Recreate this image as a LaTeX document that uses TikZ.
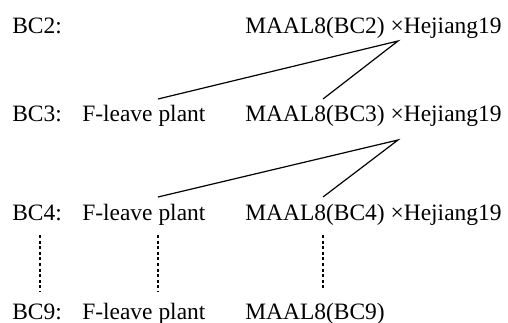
\documentclass[tikz,border=0pt]{standalone}
\usepackage{fontspec}
\setmainfont{Liberation Serif}
\newfontfamily\tnr{Liberation Serif}
\begin{document}
\begin{tikzpicture}[x=0.75pt,y=-0.75pt,
  lbl/.style={anchor=base west,inner sep=0pt,font=\tnr\fontsize{17.6}{20}\selectfont},
  cross/.style={line width=0.9pt},
  dots/.style={line width=2.2pt,dash pattern=on 2.2pt off 2pt}]
\useasboundingbox (0,0) rectangle (508,322);
% generation labels
\node[lbl] (g2) at (12,33) {BC2:};
\node[lbl] (g3) at (12,121) {BC3:};
\node[lbl] (g4) at (12,220) {BC4:};
\node[lbl] (g9) at (12,319) {BC9:};
% F-leave plants
\node[lbl] (f3) at (82,121) {F-leave plant};
\node[lbl] (f4) at (82,220) {F-leave plant};
\node[lbl] (f9) at (82,319) {F-leave plant};
% crosses
\node[lbl] (m2) at (245,33) {MAAL8(BC2) ×Hejiang19};
\node[lbl] (m3) at (245,121) {MAAL8(BC3) ×Hejiang19};
\node[lbl] (m4) at (245,220) {MAAL8(BC4) ×Hejiang19};
\node[lbl] (m9) at (245,319) {MAAL8(BC9)};
% connector points
\coordinate (a2) at (398,41);
\coordinate (l3) at (158,99);
\coordinate (r3) at (323,99);
\coordinate (a3) at (398,140);
\coordinate (l4) at (158,197);
\coordinate (r4) at (323,197);
\draw[cross] (l3) -- (a2) -- (r3);
\draw[cross] (l4) -- (a3) -- (r4);
% dotted continuations
\coordinate (d1t) at (40,235); \coordinate (d1b) at (40,292);
\coordinate (d2t) at (158,235); \coordinate (d2b) at (158,292);
\coordinate (d3t) at (323,235); \coordinate (d3b) at (323,290);
\draw[dots] (d1t) -- (d1b);
\draw[dots] (d2t) -- (d2b);
\draw[dots] (d3t) -- (d3b);
\end{tikzpicture}
\end{document}
